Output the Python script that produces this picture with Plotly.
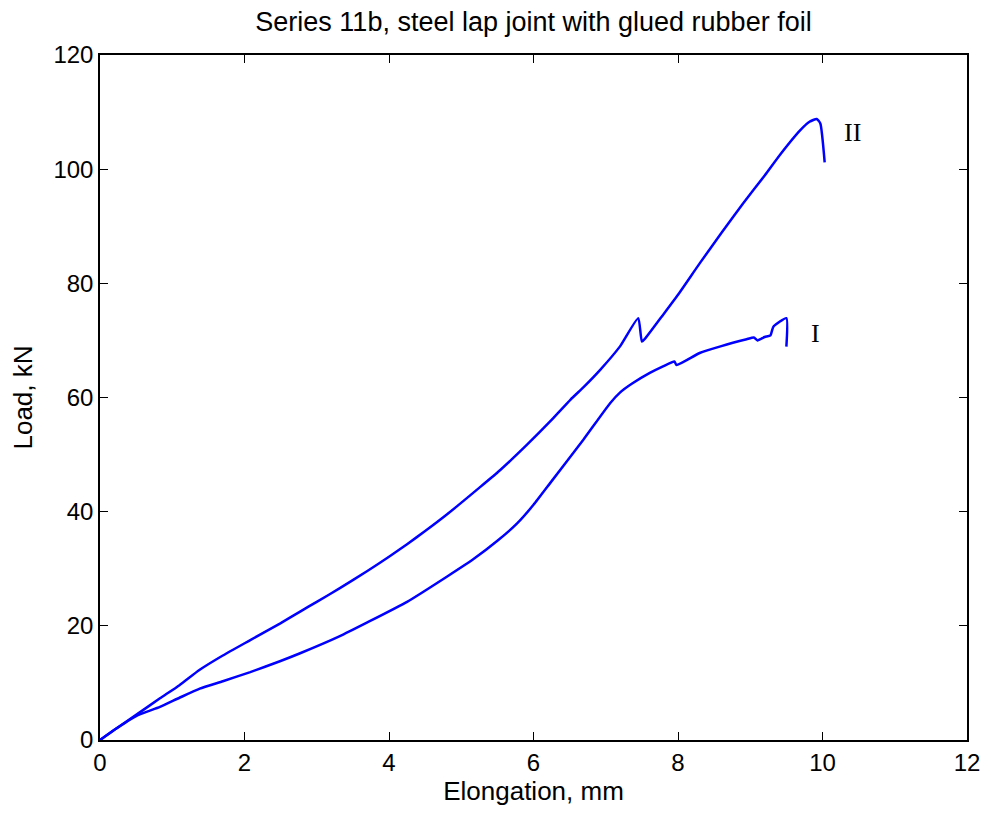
import plotly.graph_objects as go

# Curve II (upper)
x_ii = [0, 0.2, 0.5, 0.83, 1.1, 1.38, 1.7, 2.08, 2.49, 2.77, 3.0, 3.32, 3.7, 4.0, 4.25, 4.5, 4.8,
        5.26, 5.54, 5.9, 6.23, 6.51, 6.7, 6.92, 7.2, 7.45, 7.50, 7.55, 7.8, 8.0, 8.3, 8.6, 8.9,
        9.2, 9.41, 9.69, 9.82, 9.92, 9.97, 10.03]
y_ii = [0, 1.8, 4.4, 7.3, 9.6, 12.3, 14.8, 17.5, 20.4, 22.5, 24.2, 26.6, 29.6, 32.1, 34.3, 36.6, 39.5,
        44.3, 47.3, 51.6, 55.8, 59.6, 61.9, 64.8, 69.0, 73.9, 69.8, 70.4, 74.6, 78.0, 83.5, 88.8, 94.0,
        98.9, 102.5, 106.8, 108.3, 108.8, 108.0, 101.2]

# Curve I (lower)
x_i = [0, 0.2, 0.5, 0.83, 1.1, 1.38, 1.7, 2.08, 2.49, 2.77, 3.32, 3.7, 4.25, 4.8, 5.17, 5.5, 5.77,
       6.0, 6.23, 6.69, 7.06, 7.2, 7.36, 7.61, 7.8, 7.95, 7.98, 8.3, 8.6, 8.95, 9.05, 9.1, 9.2, 9.28,
       9.32, 9.5, 9.5]
y_i = [0, 1.8, 4.2, 5.8, 7.4, 9.0, 10.3, 11.9, 13.8, 15.2, 18.2, 20.6, 24.2, 28.6, 31.7, 34.9, 37.9,
       41.2, 45.0, 52.6, 59.0, 60.9, 62.4, 64.3, 65.5, 66.3, 65.7, 67.8, 69.0, 70.2, 70.5, 70.0, 70.6, 70.9,
       72.4, 73.9, 68.9]

labels = ["I", "II"]
label_x = [9.9, 10.42]
label_y = [71.3, 106.4]

x_ticks = [0, 2, 4, 6, 8, 10, 12]
y_ticks = [0, 20, 40, 60, 80, 100, 120]

line_style = dict(color="#0000ff", width=2.5, shape="spline", smoothing=0.5)

fig = go.Figure()
fig.add_trace(go.Scatter(x=x_ii, y=y_ii, mode="lines", line=line_style, showlegend=False))
fig.add_trace(go.Scatter(x=x_i, y=y_i, mode="lines", line=line_style, showlegend=False))

for t, lx, ly in zip(labels, label_x, label_y):
    fig.add_annotation(x=lx, y=ly, text=t, showarrow=False,
                       font=dict(family="Liberation Serif", size=26, color="black"))

axis_common = dict(showgrid=False, zeroline=False, showline=True, linecolor="black", linewidth=1.5,
                   mirror="allticks", ticks="inside", ticklen=8, tickcolor="black", tickwidth=1,
                   tickfont=dict(family="Liberation Sans", size=24, color="black"))

fig.update_xaxes(range=[0, 12], tickvals=x_ticks,
                 title=dict(text="Elongation, mm", font=dict(family="Liberation Sans", size=26, color="black"), standoff=4),
                 **axis_common)
fig.update_yaxes(range=[0, 120], tickvals=y_ticks,
                 title=dict(text="Load, kN", font=dict(family="Liberation Sans", size=26, color="black"), standoff=14),
                 **axis_common)

fig.update_layout(
    width=983, height=807,
    margin=dict(l=92, r=24, t=47, b=75),
    paper_bgcolor="white", plot_bgcolor="white",
    title=dict(text="Series 11b, steel lap joint with glued rubber foil",
               font=dict(family="Liberation Sans", size=27, color="black"),
               xref="paper", x=0.5, xanchor="center", yref="container", y=0.983, yanchor="middle"),
)

fig.write_html("out.html")
